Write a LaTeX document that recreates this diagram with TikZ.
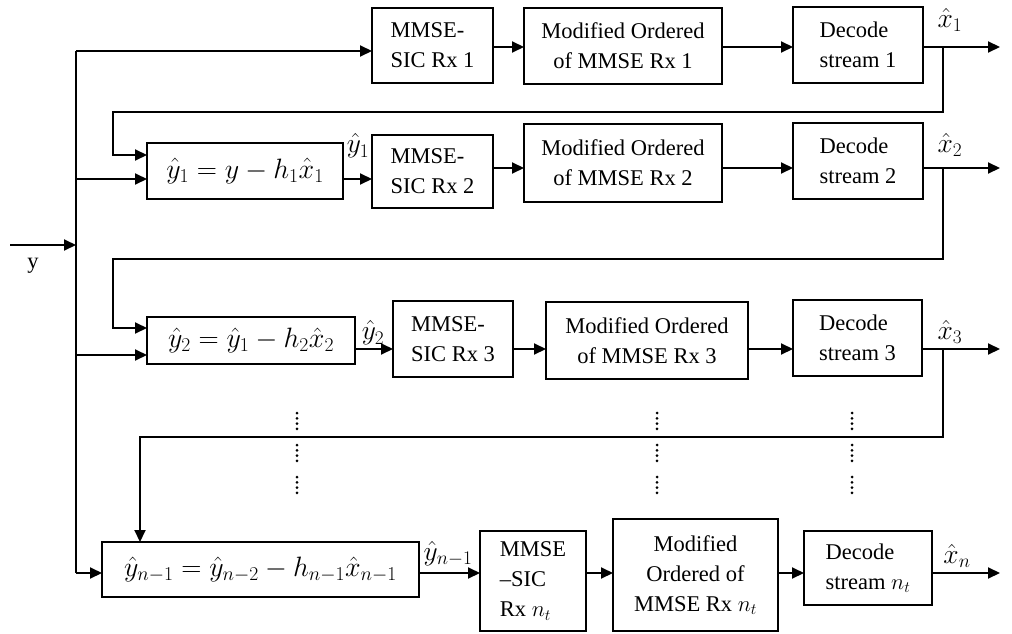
\RequirePackage{fix-cm}
\documentclass[tikz,border=0pt]{standalone}
\usepackage{fontspec}
\setmainfont{Liberation Serif}
\usetikzlibrary{arrows.meta}
\begin{document}
\begin{tikzpicture}[x=1pt,y=-1pt,
  line width=2pt,
  box/.style={draw, line width=2pt, inner sep=0pt, outer sep=0pt,
    font=\fontsize{22.5}{30}\selectfont},
  eqbox/.style={box, font=\fontsize{28}{32}\selectfont},
  arr/.style={-{Triangle[length=12pt,width=11pt]}},
  lbl/.style={inner sep=0pt, font=\fontsize{27.5}{30}\selectfont},
]
\useasboundingbox (0,0) rectangle (1012,634);

% ---------- stage 1 ----------
\node[box, minimum width=121pt, minimum height=75pt, align=left] (M1) at (432.5,45.5) {MMSE-\\SIC Rx 1};
\node[box, minimum width=198pt, minimum height=76pt, align=center] (O1) at (623,46) {Modified Ordered\\of MMSE Rx 1};
\node[box, minimum width=130pt, minimum height=76pt, align=left] (D1) at (858,45) {Decode\\stream 1};

% ---------- stage 2 ----------
\node[eqbox, minimum width=196pt, minimum height=56pt] (S1) at (245,171) {$\hat{y}_1 = y - h_1\hat{x}_1$};
\node[box, minimum width=121pt, minimum height=73pt, align=left] (M2) at (432.5,171.5) {MMSE-\\SIC Rx 2};
\node[box, minimum width=198pt, minimum height=78pt, align=center] (O2) at (623,163) {Modified Ordered\\of MMSE Rx 2};
\node[box, minimum width=130pt, minimum height=76pt, align=left] (D2) at (858,161) {Decode\\stream 2};

% ---------- stage 3 ----------
\node[eqbox, minimum width=208pt, minimum height=47pt] (S2) at (251,340.5) {$\hat{y}_2 = \hat{y}_1 - h_2\hat{x}_2$};
\node[box, minimum width=120pt, minimum height=76pt, align=left] (M3) at (453,339) {MMSE-\\SIC Rx 3};
\node[box, minimum width=202pt, minimum height=77pt, align=center] (O3) at (647,340.5) {Modified Ordered\\of MMSE Rx 3};
\node[box, minimum width=129pt, minimum height=76pt, align=left] (D3) at (857.5,338) {Decode\\stream 3};

% ---------- last stage ----------
\node[eqbox, minimum width=317pt, minimum height=55pt] (SN) at (260.5,569.5) {$\hat{y}_{n-1} = \hat{y}_{n-2} - h_{n-1}\hat{x}_{n-1}$};
\node[box, minimum width=106pt, minimum height=100pt, align=left] (MN) at (533,581) {MMSE\\--SIC\\Rx $n_t$};
\node[box, minimum width=165pt, minimum height=112pt, align=center] (ON) at (695.5,575) {Modified\\Ordered of\\MMSE Rx $n_t$};
\node[box, minimum width=128pt, minimum height=74pt, align=left] (DN) at (868,568) {Decode\\stream $n_t$};

% ---------- input and distribution bus ----------
\coordinate (yin) at (10,245);
\coordinate (yj)  at (76,245);
\coordinate (bT)  at (76,51);
\coordinate (b2)  at (76,179);
\coordinate (b3)  at (76,355);
\coordinate (bB)  at (76,573);
\draw[arr] (yin) -- (yj);
\node[inner sep=0pt, font=\fontsize{22.5}{25}\selectfont] (ylab) at (33,266) {y};
\draw (bB) -- (bT);
\draw[arr] (bT) -- (M1.west |- bT);
\draw[arr] (b2) -- (S1.west |- b2);
\draw[arr] (b3) -- (S2.west |- b3);
\draw[arr] (bB) -- (SN.west |- bB);

% ---------- signal levels of each stage ----------
\coordinate (r1) at (0,47);
\coordinate (r2) at (0,179);
\coordinate (r2b) at (0,168);
\coordinate (r3) at (0,349);
\coordinate (rN) at (0,573);

\draw[arr] (M1.east |- r1) -- (O1.west |- r1);
\draw[arr] (O1.east |- r1) -- (D1.west |- r1);
\coordinate (o1) at (1000,47);
\draw[arr] (D1.east |- r1) -- (o1);

\draw[arr] (S1.east |- r2) -- (M2.west |- r2);
\draw[arr] (M2.east |- r2b) -- (O2.west |- r2b);
\draw[arr] (O2.east |- r2b) -- (D2.west |- r2b);
\coordinate (o2) at (1000,168);
\draw[arr] (D2.east |- r2b) -- (o2);

\draw[arr] (S2.east |- r3) -- (M3.west |- r3);
\draw[arr] (M3.east |- r3) -- (O3.west |- r3);
\draw[arr] (O3.east |- r3) -- (D3.west |- r3);
\coordinate (o3) at (1000,349);
\draw[arr] (D3.east |- r3) -- (o3);

\draw[arr] (SN.east |- rN) -- (MN.west |- rN);
\draw[arr] (MN.east |- rN) -- (ON.west |- rN);
\draw[arr] (ON.east |- rN) -- (DN.west |- rN);
\coordinate (oN) at (1000,573);
\draw[arr] (DN.east |- rN) -- (oN);

% ---------- feedback of decoded streams ----------
\coordinate (k1)  at (943,47);
\coordinate (k1b) at (113,112);
\coordinate (k1c) at (113,155);
\draw[arr] (k1) |- (k1b) -- (k1c) -- (S1.west |- k1c);

\coordinate (k2)  at (943,168);
\coordinate (k2b) at (113,259);
\coordinate (k2c) at (113,328);
\draw[arr] (k2) |- (k2b) -- (k2c) -- (S2.west |- k2c);

\coordinate (k3)  at (943,349);
\coordinate (k3b) at (140,437);
\draw[arr] (k3) |- (k3b) -- (SN.north -| k3b);

% ---------- signal labels ----------
\node[lbl] (ly1) at (358,146) {$\hat{y}_1$};
\node[lbl] (ly2) at (373,333) {$\hat{y}_2$};
\node[lbl] (lyn) at (448,554) {$\hat{y}_{n-1}$};
\node[lbl] (lx1) at (950,20) {$\hat{x}_1$};
\node[lbl] (lx2) at (950,145) {$\hat{x}_2$};
\node[lbl] (lx3) at (950,332) {$\hat{x}_3$};
\node[lbl] (lxn) at (957,556) {$\hat{x}_n$};

% ---------- vertical ellipses ----------
\foreach \cx in {297,657,852}
  \foreach \gy in {413,445,477}
    \foreach \k in {0,1,2,3}
      \fill (\cx,\gy+\k*5.3) circle (1.5pt);
\end{tikzpicture}
\end{document}
